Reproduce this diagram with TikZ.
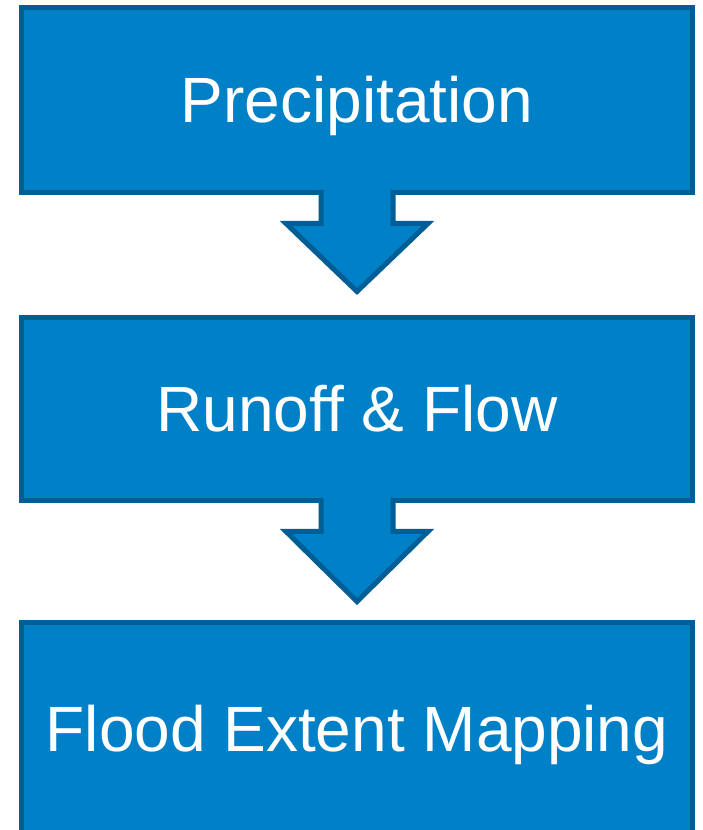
\documentclass[tikz,border=0pt]{standalone}
\usepackage{fontspec}
\setmainfont{Liberation Sans}
\usetikzlibrary{positioning,calc}
\definecolor{stageblue}{RGB}{0,128,199}
\definecolor{stageedge}{RGB}{0,94,150}
\tikzset{stage/.style={rectangle, draw=stageedge, fill=stageblue, line width=5pt, outer sep=0pt, inner sep=0pt, minimum width=671pt, text=white, font=\fontsize{64}{70}\selectfont, text height=45.8pt, text depth=0pt}}
% block arrow hanging under a stage box, #2 = depth of the tip
\newcommand{\stagearrow}[2]{%
  \begin{scope}[shift={(#1.south)}]
    \fill[stageblue] (-36,3) -- (-36,-31) -- (-71,-31) -- (0,-#2) -- (71,-31) -- (36,-31) -- (36,3) -- cycle;
    \draw[stageedge, line width=5pt] (-36,2.5) -- (-36,-31) -- (-71,-31) -- (0,-#2) -- (71,-31) -- (36,-31) -- (36,2.5);
  \end{scope}}

\begin{document}
\begin{tikzpicture}[x=1pt,y=1pt]
\useasboundingbox (0,0) rectangle (702,830);
\node[stage, minimum height=185pt] (precip) at (357,730) {Precipitation};
\node[stage, minimum height=183pt, below=125pt of precip] (runoff) {Runoff \& Flow};
\node[stage, minimum height=213pt, below=122pt of runoff] (flood) {Flood Extent Mapping};
\stagearrow{precip}{99}
\stagearrow{runoff}{101}
\end{tikzpicture}
\end{document}
